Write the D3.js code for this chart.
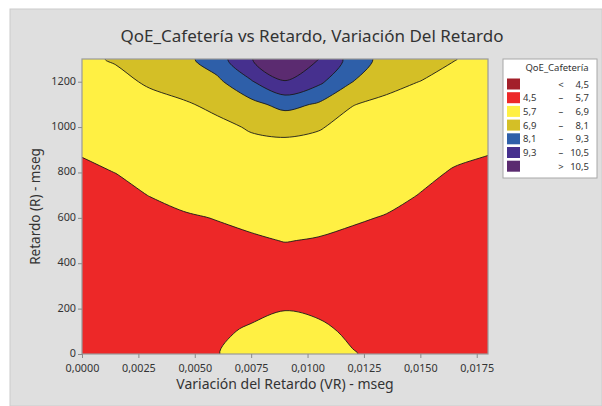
<!DOCTYPE html>
<html>
<head>
<meta charset="utf-8">
<script src="https://cdn.jsdelivr.net/npm/d3@7"></script>
<style>
  body { margin: 0; background: #fff; }
  text { font-family: "Noto Sans", sans-serif; fill: #333; }
</style>
</head>
<body>
<div id="chart"></div>
<script>
// QoE_Cafeteria contour chart
var svgWidth = 602;
var svgHeight = 406;

var margin = { top: 59, left: 82 };
var width = 406;
var height = 295;

// grid of the surface
var vrValues = [0, 0.0015, 0.003, 0.0045, 0.006, 0.0075, 0.009, 0.0105, 0.012, 0.0135, 0.015, 0.0165, 0.018];
var retardoValues = [0, 100, 200, 300, 400, 500, 600, 700, 800, 900, 1000, 1100, 1200, 1300];

// one row per retardo value, one column per vr value
var qoeRows = [
  [5.0, 5.05, 5.1, 5.2, 5.68, 5.95, 6.05, 6.0, 5.73, 5.54, 5.45, 5.3, 5.2],
  [5.05, 5.1, 5.15, 5.25, 5.6, 5.78, 5.9, 5.82, 5.6, 5.5, 5.42, 5.28, 5.2],
  [5.1, 5.15, 5.2, 5.3, 5.5, 5.55, 5.68, 5.6, 5.5, 5.45, 5.38, 5.25, 5.2],
  [5.15, 5.2, 5.25, 5.35, 5.45, 5.42, 5.42, 5.42, 5.42, 5.4, 5.35, 5.25, 5.2],
  [5.2, 5.25, 5.32, 5.42, 5.47, 5.45, 5.45, 5.45, 5.44, 5.42, 5.36, 5.27, 5.22],
  [5.3, 5.33, 5.42, 5.52, 5.57, 5.62, 5.72, 5.66, 5.55, 5.5, 5.42, 5.32, 5.27],
  [5.4, 5.45, 5.55, 5.64, 5.72, 5.85, 5.98, 5.9, 5.78, 5.66, 5.52, 5.4, 5.34],
  [5.5, 5.58, 5.71, 5.85, 5.92, 6.1, 6.22, 6.15, 6.0, 5.88, 5.68, 5.5, 5.42],
  [5.62, 5.705, 5.9, 6.05, 6.15, 6.35, 6.47, 6.4, 6.22, 6.1, 5.85, 5.65, 5.55],
  [5.74, 5.9, 6.1, 6.28, 6.4, 6.65, 6.72, 6.65, 6.45, 6.3, 6.05, 5.85, 5.75],
  [5.95, 6.15, 6.35, 6.52, 6.7, 6.98, 7.05, 6.95, 6.68, 6.5, 6.28, 6.08, 5.95],
  [6.2, 6.4, 6.65, 6.8, 7.1, 7.75, 8.5, 7.95, 6.92, 6.75, 6.55, 6.35, 6.15],
  [6.45, 6.7, 7.0, 7.3, 7.85, 9.2, 10.45, 9.55, 8.11, 7.1, 6.89, 6.62, 6.38],
  [6.75, 6.97, 7.35, 7.75, 8.78, 10.45, 11.5, 10.5, 8.82, 7.62, 7.3, 6.93, 6.6]
];

var levels = [4.5, 5.7, 6.9, 8.1, 9.3, 10.5];
var levelColors = ["#a3202a", "#ed2828", "#fff043", "#d4bf26", "#2e5fa9", "#46308e", "#5b2b70"];

var legendLow = ["", "4,5", "5,7", "6,9", "8,1", "9,3", ""];
var legendSep = ["<", "–", "–", "–", "–", "–", ">"];
var legendHigh = ["4,5", "5,7", "6,9", "8,1", "9,3", "10,5", "10,5"];

var xTicks = [0, 0.0025, 0.005, 0.0075, 0.01, 0.0125, 0.015, 0.0175];
var yTicks = [0, 200, 400, 600, 800, 1000, 1200];

var svg = d3.select("#chart")
  .append("svg")
  .attr("width", svgWidth)
  .attr("height", svgHeight);

// gray panel
svg.append("rect")
  .attr("x", 10).attr("y", 9)
  .attr("width", svgWidth - 10).attr("height", svgHeight - 9)
  .attr("fill", "#dfdfdf")
  .attr("stroke", "#cccccc");

svg.append("clipPath").attr("id", "plotClip")
  .append("rect").attr("width", width).attr("height", height);

var chartGroup = svg.append("g")
  .attr("transform", `translate(${margin.left}, ${margin.top})`);

var xScale = d3.scaleLinear().domain([0, 0.018]).range([0, width]);
var yScale = d3.scaleLinear().domain([0, 1300]).range([height, 0]);

// grid coordinates from d3.contours -> data -> pixels
var nx = vrValues.length, ny = retardoValues.length;
var gx = d3.scaleLinear().domain([0.5, nx - 0.5]).range([xScale(vrValues[0]), xScale(vrValues[nx - 1])]);
var gy = d3.scaleLinear().domain([0.5, ny - 0.5]).range([yScale(retardoValues[0]), yScale(retardoValues[ny - 1])]);

var flat = [];
qoeRows.forEach(function(row) { row.forEach(function(v) { flat.push(v); }); });

var contours = d3.contours()
  .size([nx, ny])
  .thresholds(levels)(flat);

// smooth the marching-squares rings a bit
var ringLine = d3.line()
  .x(p => gx(p[0]))
  .y(p => gy(p[1]))
  .curve(d3.curveCatmullRomClosed.alpha(0.5));

function bandPath(d) {
  return d.coordinates.map(function(poly) {
    return poly.map(ring => ringLine(ring.slice(0, -1))).join("");
  }).join("");
}

var plot = chartGroup.append("g").attr("clip-path", "url(#plotClip)");

plot.append("rect")
  .attr("width", width).attr("height", height)
  .attr("fill", levelColors[0]);

plot.selectAll("path.band")
  .data(contours)
  .enter()
  .append("path")
  .attr("class", "band")
  .attr("d", bandPath)
  .attr("fill-rule", "evenodd")
  .attr("fill", (d, i) => levelColors[i + 1])
  .attr("stroke", "#1a1a1a")
  .attr("stroke-width", 0.9)
  .attr("stroke-linejoin", "round");

// plot frame
chartGroup.append("rect")
  .attr("width", width).attr("height", height)
  .attr("fill", "none")
  .attr("stroke", "#9a9a9a")
  .attr("stroke-width", 1.2);

// axes
var bottomAxis = d3.axisBottom(xScale)
  .tickValues(xTicks)
  .tickSize(4)
  .tickFormat(d => d3.format(".4f")(d).replace(".", ","));
var leftAxis = d3.axisLeft(yScale)
  .tickValues(yTicks)
  .tickSize(4)
  .tickFormat(d3.format("d"));

var xAxis = chartGroup.append("g")
  .attr("transform", `translate(0, ${height})`)
  .call(bottomAxis);
var yAxis = chartGroup.append("g").call(leftAxis);

[xAxis, yAxis].forEach(function(ax) {
  ax.select(".domain").remove();
  ax.selectAll("line").attr("stroke", "#8a8a8a");
  ax.selectAll("text")
    .style("font-family", "'Noto Sans', sans-serif")
    .style("font-size", "10.8px")
    .attr("fill", "#333");
});
xAxis.selectAll("text").attr("dy", 0).attr("y", 17.8);
yAxis.selectAll("text").attr("x", -6).attr("dy", "0.22em");

// titles
svg.append("text")
  .attr("x", 312).attr("y", 42)
  .attr("text-anchor", "middle")
  .style("font-size", "17px")
  .text("QoE_Cafetería vs Retardo, Variación Del Retardo");

svg.append("text")
  .attr("x", margin.left + width / 2).attr("y", 389)
  .attr("text-anchor", "middle")
  .style("font-size", "14px")
  .text("Variación del Retardo (VR) - mseg");

svg.append("text")
  .attr("transform", `translate(40, ${margin.top + height / 2}) rotate(-90)`)
  .attr("text-anchor", "middle")
  .style("font-size", "13.5px")
  .text("Retardo (R) - mseg");

// legend
var legend = svg.append("g").attr("transform", "translate(503, 59)");
legend.append("rect")
  .attr("width", 94).attr("height", 119)
  .attr("fill", "#fff")
  .attr("stroke", "#a8a8a8");
legend.append("text")
  .attr("x", 54).attr("y", 12)
  .attr("text-anchor", "middle")
  .style("font-size", "9.5px")
  .text("QoE_Cafetería");

var rows = legend.selectAll("g.item")
  .data(levelColors)
  .enter()
  .append("g")
  .attr("class", "item")
  .attr("transform", (d, i) => `translate(0, ${25 + i * 13.7})`);

rows.append("rect")
  .attr("x", 4).attr("y", -5.5)
  .attr("width", 13).attr("height", 11)
  .attr("fill", d => d);
rows.append("text")
  .attr("x", 20).attr("y", 3.5)
  .style("font-size", "9.5px")
  .text((d, i) => legendLow[i]);
rows.append("text")
  .attr("x", 58).attr("y", 3.5)
  .attr("text-anchor", "middle")
  .style("font-size", "9.5px")
  .text((d, i) => legendSep[i]);
rows.append("text")
  .attr("x", 86).attr("y", 3.5)
  .attr("text-anchor", "end")
  .style("font-size", "9.5px")
  .text((d, i) => legendHigh[i]);
</script>
</body>
</html>
